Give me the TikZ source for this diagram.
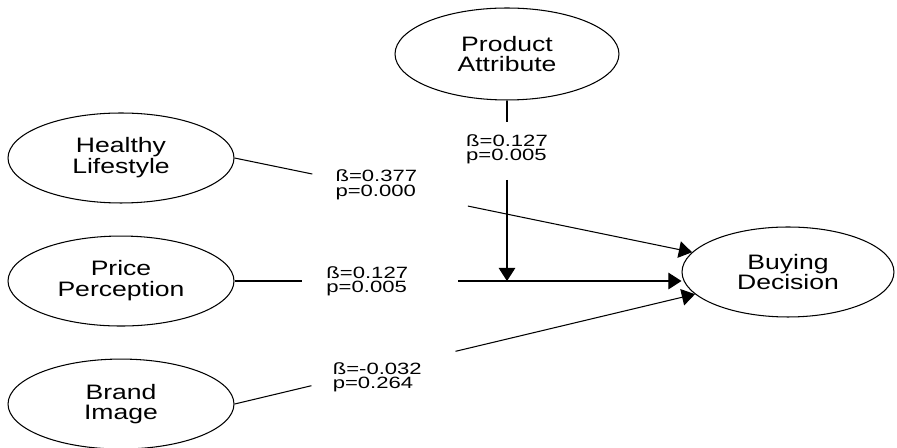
\documentclass[tikz,border=0pt]{standalone}
\usepackage{fontspec}
\setmainfont{Liberation Sans}[FakeStretch=1.27]
\newfontfamily\coeffont{Liberation Sans}[FakeStretch=1.35]
\usetikzlibrary{positioning}
\usetikzlibrary{shapes.geometric}
\usetikzlibrary{arrows.meta}
\tikzset{node distance=0.64cm, % Gap between the stacked constructs
  every node/.style={align=center},
  construct/.style={ % Latent variables
    draw, ellipse, line width=0.6pt,
    minimum width=4.52cm, minimum height=1.8cm,
    font=\fontsize{11.9}{11.9}\selectfont},
  coef/.style={ % Path coefficients
    align=left,
    font=\coeffont\fontsize{9.3}{8.2}\selectfont},
  path line/.style={draw, line width=0.6pt},
  path arrow/.style={path line, -{Triangle[length=7.5pt,width=9.5pt]}}}

\begin{document}
\begin{tikzpicture}[x=0.02cm, y=-0.02cm]
  \useasboundingbox (0,0) rectangle (897,448);

  \node [construct] (hl) at (121,158) {Healthy\\Lifestyle};
  \node [construct, below=of hl] (pp) {Price\\Perception};
  \node [construct, below=of pp] (bi) {Brand\\Image};
  \node [construct, minimum width=4.48cm, minimum height=1.84cm] (pa) at (507,54) {Product\\Attribute};
  \node [construct, minimum width=4.24cm] (bd) at (788,272) {Buying\\Decision};

  \coordinate (ppbd) at (bd.west |- pp.east);
  \coordinate (pamid) at (pa.south |- pp.east);

  % Healthy Lifestyle -> Buying Decision
  \path (hl.east) -- (bd)
    coordinate [pos=0.17] (hl1) coordinate [pos=0.51] (hl2)
    node [coef, pos=0.31, yshift=1.4pt] (hlc) {ß=0.377\\p=0.000};
  \draw [path line] (hl.east) -- (hl1);
  \draw [path arrow] (hl2) -- (bd);

  % Price Perception -> Buying Decision
  \path (pp.east) -- (ppbd)
    coordinate [pos=0.15] (pp1) coordinate [pos=0.5] (pp2)
    node [coef, pos=0.297] (ppc) {ß=0.127\\p=0.005};
  \draw [path line] (pp.east) -- (pp1);
  \draw [path arrow] (pp2) -- (ppbd);

  % Brand Image -> Buying Decision
  \path (bi.east) -- (bd)
    coordinate [pos=0.167] (bi1) coordinate [pos=0.48] (bi2)
    node [coef, pos=0.31, yshift=-4pt] (bic) {ß=-0.032\\p=0.264};
  \draw [path line] (bi.east) -- (bi1);
  \draw [path arrow] (bi2) -- (bd);

  % Product Attribute moderates the price path
  \path (pa.south) -- (pamid)
    coordinate [pos=0.12] (pa1) coordinate [pos=0.44] (pa2)
    node [coef, pos=0.27] (pac) {ß=0.127\\p=0.005};
  \draw [path line] (pa.south) -- (pa1);
  \draw [path arrow] (pa2) -- (pamid);
\end{tikzpicture}
\end{document}
